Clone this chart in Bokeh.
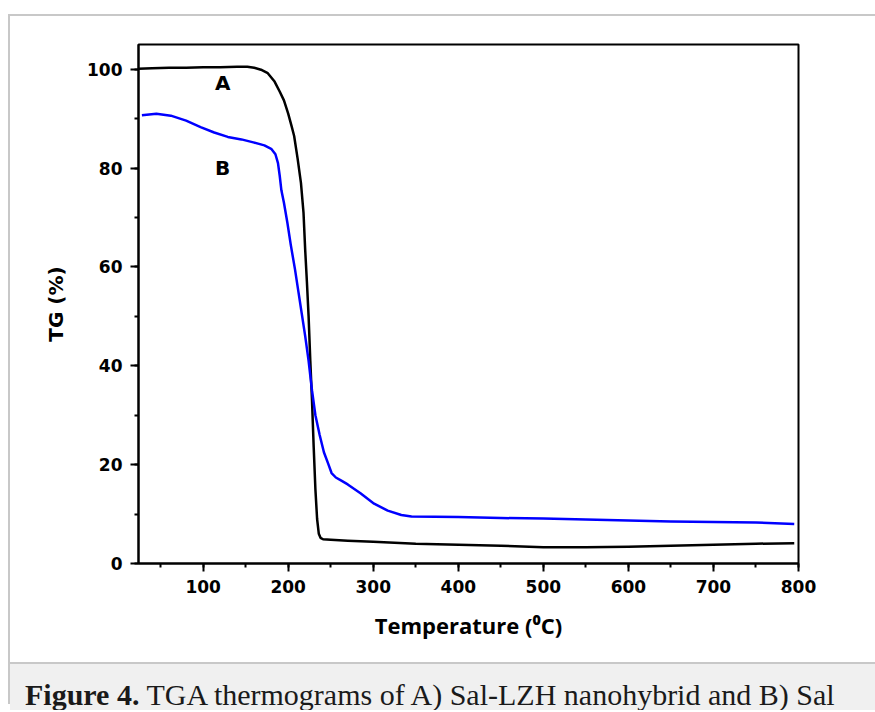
from bokeh.plotting import figure
from bokeh.models import Div, SingleIntervalTicker, Range1d
from bokeh.layouts import column, row
from bokeh.core.properties import value
from bokeh.embed import file_html
from bokeh.resources import INLINE

# ---- data ----
temp_a = [24, 40, 60, 80, 100, 120, 140, 152, 160, 168, 176, 184, 190, 195, 200, 204, 207,
          211, 215, 218, 220, 222, 224, 226, 228, 230, 232, 234, 236, 238, 241, 250, 270,
          300, 350, 400, 450, 500, 550, 600, 650, 700, 750, 795]
tg_a = [100.1, 100.2, 100.3, 100.3, 100.4, 100.4, 100.5, 100.5, 100.3, 99.9, 99.2, 97.5,
        95.5, 93.7, 91.0, 88.5, 86.5, 82.0, 77.0, 71.0, 63.4, 57.0, 50.0, 41.0, 33.0, 23.5,
        15.0, 9.0, 6.0, 5.2, 4.9, 4.8, 4.6, 4.4, 4.0, 3.8, 3.6, 3.3, 3.3, 3.4, 3.6, 3.8, 4.0, 4.1]

temp_b = [28, 45, 62, 80, 97, 113, 129, 145, 159, 172, 180, 185, 188, 190, 192, 195, 199,
          203, 208, 212, 216, 220, 224, 228, 232, 237, 242, 247, 251, 256, 263, 270, 285,
          301, 317, 333, 345, 400, 450, 500, 550, 600, 650, 700, 750, 795]
tg_b = [90.7, 91.0, 90.6, 89.6, 88.3, 87.2, 86.3, 85.8, 85.2, 84.6, 83.9, 82.8, 81.0, 78.5,
        75.5, 73.0, 69.0, 64.5, 59.5, 55.0, 50.5, 46.0, 41.0, 35.0, 30.0, 26.0, 22.5, 20.2,
        18.3, 17.4, 16.7, 16.0, 14.2, 12.1, 10.7, 9.8, 9.5, 9.4, 9.2, 9.1, 8.9, 8.7, 8.5,
        8.4, 8.3, 8.0]

curve_labels = ["A", "B"]
label_x = [123, 123]
label_y = [97.2, 80.0]

x_title = "Temperature (\u2070C)"
y_title = "TG (%)"
caption_bold = "Figure 4."
caption_rest = "TGA thermograms of A) Sal-LZH nanohybrid and B) Sal"

# ---- figure ----
p = figure(width=857, height=646, output_backend="svg", toolbar_location=None,
           x_range=Range1d(24, 800), y_range=Range1d(0, 105),
           min_border_left=128, min_border_right=69, min_border_top=28, min_border_bottom=99,
           margin=0)
p.background_fill_color = "white"
p.border_fill_color = "white"
p.grid.visible = False
p.outline_line_color = "black"
p.outline_line_width = 2

p.line(temp_a, tg_a, line_color="black", line_width=2.5, line_join="round")
p.line(temp_b, tg_b, line_color="#0000ff", line_width=2.5, line_join="round")

p.text(x=label_x, y=label_y, text=curve_labels, text_font=value("DejaVu Sans"),
       text_font_style="bold", text_font_size="20px", text_align="center",
       text_baseline="middle", text_color="black")

p.xaxis.ticker = SingleIntervalTicker(interval=100, num_minor_ticks=2)
p.yaxis.ticker = SingleIntervalTicker(interval=20, num_minor_ticks=2)

for ax in (p.xaxis, p.yaxis):
    ax.axis_line_color = "black"
    ax.axis_line_width = 2
    ax.major_tick_line_color = "black"
    ax.major_tick_line_width = 2
    ax.minor_tick_line_color = "black"
    ax.minor_tick_line_width = 2
    ax.major_tick_in = 0
    ax.major_tick_out = 8
    ax.minor_tick_in = 0
    ax.minor_tick_out = 4
    ax.major_label_text_font = "DejaVu Sans"
    ax.major_label_text_font_style = "bold"
    ax.major_label_text_font_size = "17px"
    ax.major_label_text_color = "black"
    ax.axis_label_text_color = "black"
    ax.axis_label_text_font_style = "bold"

p.xaxis.major_label_standoff = 8
p.yaxis.major_label_standoff = 8

p.xaxis.axis_label = x_title
p.xaxis.axis_label_text_font = "Open Sans"
p.xaxis.axis_label_text_font_size = "22px"
p.xaxis.axis_label_standoff = 14

p.yaxis.axis_label = y_title
p.yaxis.axis_label_text_font = "DejaVu Sans"
p.yaxis.axis_label_text_font_size = "20px"
p.yaxis.axis_label_standoff = 16

# ---- frame decoration and caption ----
gray = "#c8c8c8"
left_gap = Div(text="", width=2, height=6, margin=0)
left_line = Div(text="", width=2, height=690, margin=0, styles={"background-color": gray})
top_gap = Div(text="", width=865, height=6, margin=0)
top_line = Div(text="", width=865, height=2, margin=0, styles={"background-color": gray})
cap_line = Div(text="", width=865, height=2, margin=0, styles={"background-color": gray})
caption = Div(
    text=('<div style="font-family:\'Liberation Serif\'; font-size:30px; color:#1a1a1a; '
          'padding:11px 0 0 15px; line-height:40px; white-space:nowrap;">'
          '<b>%s</b> %s</div>') % (caption_bold, caption_rest),
    width=865, height=46, margin=0,
    styles={"background-color": "#f0f0f0", "overflow": "hidden"})

layout = row(column(left_gap, left_line, margin=0, spacing=0),
             column(top_gap, top_line, p, cap_line, caption, margin=0, spacing=0),
             margin=(8, 0, 0, 8), spacing=0)

open("out.html", "w").write(file_html(layout, INLINE))
